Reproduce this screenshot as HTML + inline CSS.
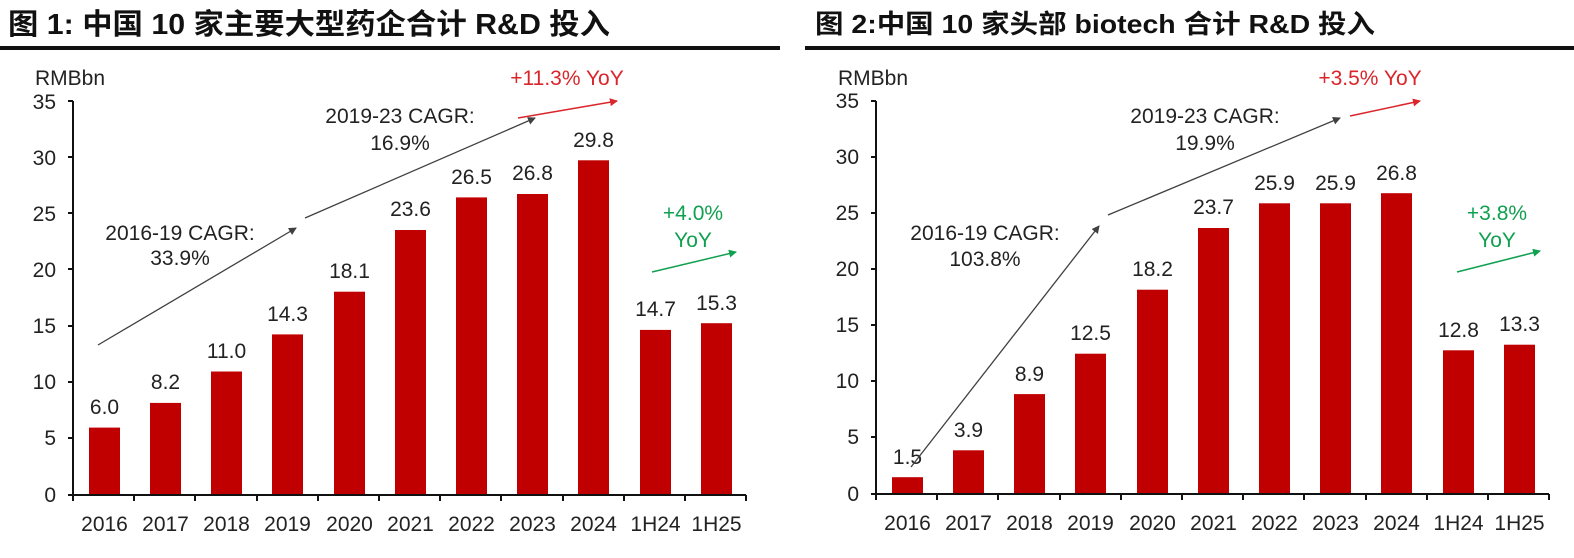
<!DOCTYPE html>
<html><head><meta charset="utf-8"><style>
html,body{margin:0;padding:0;background:#fff;}
svg{display:block;}
text{font-family:"Liberation Sans","Noto Sans CJK SC",sans-serif;}
</style></head><body>
<svg width="1574" height="558" viewBox="0 0 1574 558" xmlns="http://www.w3.org/2000/svg">
<defs>
<marker id="ag" markerWidth="8" markerHeight="8" refX="7" refY="4" orient="auto" markerUnits="userSpaceOnUse" viewBox="0 0 8 8"><path d="M0,0 L8,4 L0,8z" fill="#404040"/></marker>
<marker id="ar" markerWidth="8" markerHeight="8" refX="7" refY="4" orient="auto" viewBox="0 0 8 8" markerUnits="userSpaceOnUse"><path d="M0,0 L8,4 L0,8z" fill="#d9262b"/></marker>
<marker id="agr" markerWidth="8" markerHeight="8" refX="7" refY="4" orient="auto" viewBox="0 0 8 8" markerUnits="userSpaceOnUse"><path d="M0,0 L8,4 L0,8z" fill="#10a050"/></marker>
</defs>
<style>
.t{font-size:26px;font-weight:bold;fill:#111;}
.ax{font-size:21px;fill:#222;}
.v{font-size:21px;fill:#222;text-anchor:middle;}
.an{font-size:21px;fill:#222;text-anchor:middle;}
</style>
<text x="8" y="34" class="t" style="font-size:29px" textLength="602" lengthAdjust="spacingAndGlyphs">图 1: 中国 10 家主要大型药企合计 R&amp;D 投入</text>
<rect x="0" y="46" width="780" height="4" fill="#111"/>
<text x="815" y="33" class="t" textLength="560" lengthAdjust="spacingAndGlyphs">图 2:中国 10 家头部 biotech 合计 R&amp;D 投入</text>
<rect x="805" y="46" width="769" height="4" fill="#111"/>

<g>
<text x="35" y="85" class="ax">RMBbn</text>
<g class="ax" text-anchor="end">
<text x="56" y="502">0</text><text x="56" y="445">5</text><text x="56" y="389">10</text><text x="56" y="333">15</text><text x="56" y="277">20</text><text x="56" y="221">25</text><text x="56" y="165">30</text><text x="56" y="109">35</text>
</g>
<g fill="#c00000">
<rect x="89" y="427.6" width="31" height="67.4"/>
<rect x="150" y="402.9" width="31" height="92.1"/>
<rect x="211" y="371.5" width="31" height="123.5"/>
<rect x="272" y="334.4" width="31" height="160.6"/>
<rect x="334" y="291.7" width="31" height="203.3"/>
<rect x="395" y="230" width="31" height="265"/>
<rect x="456" y="197.4" width="31" height="297.6"/>
<rect x="517" y="194" width="31" height="301"/>
<rect x="578" y="160.3" width="31" height="334.7"/>
<rect x="640" y="329.9" width="31" height="165.1"/>
<rect x="701" y="323.2" width="31" height="171.8"/>
</g>
<g class="v">
<text x="104.5" y="414">6.0</text><text x="165.5" y="389">8.2</text><text x="226.5" y="358">11.0</text><text x="287.5" y="321">14.3</text><text x="349.5" y="278">18.1</text><text x="410.5" y="216">23.6</text><text x="471.5" y="184">26.5</text><text x="532.5" y="180">26.8</text><text x="593.5" y="147">29.8</text><text x="655.5" y="316">14.7</text><text x="716.5" y="310">15.3</text>
</g>
<path d="M73,101 H68 M73,157 H68 M73,213 H68 M73,269 H68 M73,326 H68 M73,382 H68 M73,438 H68 M73,495 H68 M73,101 V495 H746" stroke="#111" stroke-width="2" fill="none"/>
<path d="M73,495 v6 M134,495 v6 M195,495 v6 M257,495 v6 M318,495 v6 M379,495 v6 M440,495 v6 M501,495 v6 M563,495 v6 M624,495 v6 M685,495 v6 M746,495 v6" stroke="#111" stroke-width="2"/>
<g class="v">
<text x="104.5" y="531">2016</text><text x="165.5" y="531">2017</text><text x="226.5" y="531">2018</text><text x="287.5" y="531">2019</text><text x="349.5" y="531">2020</text><text x="410.5" y="531">2021</text><text x="471.5" y="531">2022</text><text x="532.5" y="531">2023</text><text x="593.5" y="531">2024</text><text x="655.5" y="531">1H24</text><text x="716.5" y="531">1H25</text>
</g>
<line x1="98" y1="345" x2="296" y2="228" stroke="#404040" stroke-width="1.3" marker-end="url(#ag)"/>
<line x1="305" y1="218" x2="535" y2="118" stroke="#404040" stroke-width="1.3" marker-end="url(#ag)"/>
<text x="180" y="240" class="an">2016-19 CAGR:</text><text x="180" y="265" class="an">33.9%</text>
<text x="400" y="123" class="an">2019-23 CAGR:</text><text x="400" y="150" class="an">16.9%</text>
<line x1="518" y1="118" x2="617" y2="101" stroke="#d9262b" stroke-width="1.5" marker-end="url(#ar)"/>
<text x="567" y="85" class="an" style="fill:#d9262b">+11.3% YoY</text>
<text x="693" y="220" class="an" style="fill:#10a050">+4.0%</text><text x="693" y="247" class="an" style="fill:#10a050">YoY</text>
<line x1="652" y1="272" x2="736" y2="252" stroke="#10a050" stroke-width="1.5" marker-end="url(#agr)"/>
</g>

<g>
<text x="838" y="85" class="ax">RMBbn</text>
<g class="ax" text-anchor="end">
<text x="859" y="501">0</text><text x="859" y="444">5</text><text x="859" y="388">10</text><text x="859" y="332">15</text><text x="859" y="276">20</text><text x="859" y="220">25</text><text x="859" y="164">30</text><text x="859" y="108">35</text>
</g>
<g fill="#c00000">
<rect x="892" y="477.2" width="31" height="16.8"/>
<rect x="953" y="450.3" width="31" height="43.7"/>
<rect x="1014" y="394.1" width="31" height="99.9"/>
<rect x="1075" y="353.7" width="31" height="140.3"/>
<rect x="1137" y="289.7" width="31" height="204.3"/>
<rect x="1198" y="228" width="31" height="266"/>
<rect x="1259" y="203.3" width="31" height="290.7"/>
<rect x="1320" y="203.3" width="31" height="290.7"/>
<rect x="1381" y="193.2" width="31" height="300.8"/>
<rect x="1443" y="350.3" width="31" height="143.7"/>
<rect x="1504" y="344.7" width="31" height="149.3"/>
</g>
<g class="v">
<text x="907.5" y="464">1.5</text><text x="968.5" y="437">3.9</text><text x="1029.5" y="381">8.9</text><text x="1090.5" y="340">12.5</text><text x="1152.5" y="276">18.2</text><text x="1213.5" y="214">23.7</text><text x="1274.5" y="190">25.9</text><text x="1335.5" y="190">25.9</text><text x="1396.5" y="180">26.8</text><text x="1458.5" y="337">12.8</text><text x="1519.5" y="331">13.3</text>
</g>
<path d="M876,101 H871 M876,157 H871 M876,213 H871 M876,269 H871 M876,325 H871 M876,381 H871 M876,437 H871 M876,494 H871 M876,101 V494 H1549" stroke="#111" stroke-width="2" fill="none"/>
<path d="M876,494 v6 M937,494 v6 M998,494 v6 M1060,494 v6 M1121,494 v6 M1182,494 v6 M1243,494 v6 M1304,494 v6 M1366,494 v6 M1427,494 v6 M1488,494 v6 M1549,494 v6" stroke="#111" stroke-width="2"/>
<g class="v">
<text x="907.5" y="530">2016</text><text x="968.5" y="530">2017</text><text x="1029.5" y="530">2018</text><text x="1090.5" y="530">2019</text><text x="1152.5" y="530">2020</text><text x="1213.5" y="530">2021</text><text x="1274.5" y="530">2022</text><text x="1335.5" y="530">2023</text><text x="1396.5" y="530">2024</text><text x="1458.5" y="530">1H24</text><text x="1519.5" y="530">1H25</text>
</g>
<line x1="911" y1="467" x2="1099" y2="226" stroke="#404040" stroke-width="1.3" marker-end="url(#ag)"/>
<line x1="1108" y1="215" x2="1340" y2="118" stroke="#404040" stroke-width="1.3" marker-end="url(#ag)"/>
<text x="985" y="240" class="an">2016-19 CAGR:</text><text x="985" y="266" class="an">103.8%</text>
<text x="1205" y="123" class="an">2019-23 CAGR:</text><text x="1205" y="150" class="an">19.9%</text>
<line x1="1350" y1="116" x2="1420" y2="101" stroke="#d9262b" stroke-width="1.5" marker-end="url(#ar)"/>
<text x="1370" y="85" class="an" style="fill:#d9262b">+3.5% YoY</text>
<text x="1497" y="220" class="an" style="fill:#10a050">+3.8%</text><text x="1497" y="247" class="an" style="fill:#10a050">YoY</text>
<line x1="1457" y1="272" x2="1540" y2="251" stroke="#10a050" stroke-width="1.5" marker-end="url(#agr)"/>
</g>
</svg>
</body></html>
